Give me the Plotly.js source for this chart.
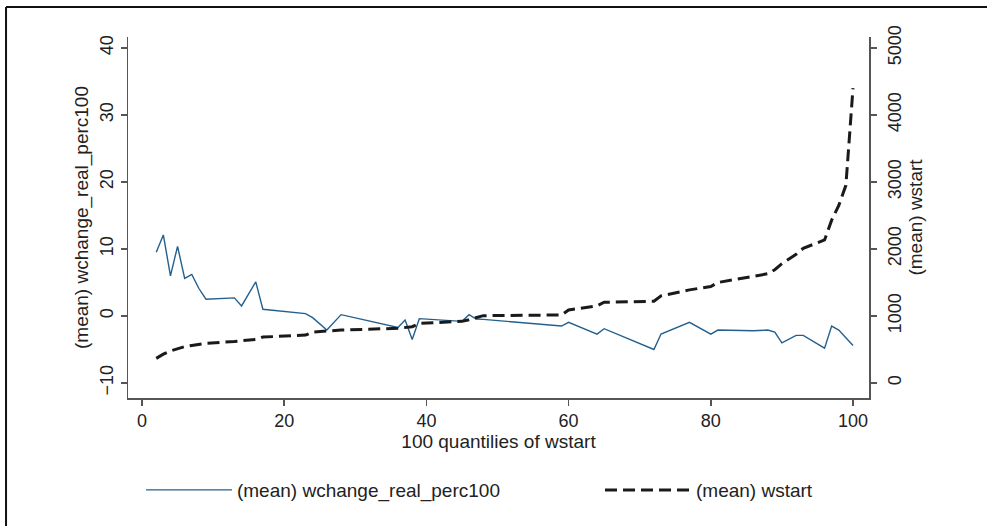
<!DOCTYPE html>
<html>
<head>
<meta charset="utf-8">
<script src="https://cdn.plot.ly/plotly-3.0.1.min.js"></script>
<style>html,body{margin:0;padding:0;background:#fff;}#chart{width:987px;height:526px;}</style>
</head>
<body>
<div id="chart"></div>
<script>
const quantiles = [2,3,4,5,6,7,8,9,13,14,16,17,23,24,26,28,36,37,38,39,45,46,47,48,59,60,64,65,72,73,77,80,81,86,88,89,90,92,93,96,97,98,99,100];
const wchange = [9.5,12.1,6.0,10.4,5.6,6.2,4.1,2.5,2.7,1.5,5.1,1.0,0.35,-0.25,-2.1,0.2,-1.7,-0.6,-3.5,-0.4,-0.8,0.2,-0.45,-0.5,-1.5,-0.95,-2.7,-1.9,-5.0,-2.7,-0.95,-2.7,-2.1,-2.2,-2.1,-2.4,-4.0,-2.9,-2.9,-4.8,-1.5,-2.1,-3.25,-4.4];
const wstart = [368,430,478,510,542,560,575,592,620,632,650,685,715,760,776,790,816,825,840,890,920,945,975,1005,1015,1090,1150,1205,1220,1300,1390,1440,1500,1600,1630,1690,1780,1920,2010,2135,2430,2650,2950,4400];
const seriesNames = ["(mean) wchange_real_perc100", "(mean) wstart"];
const xTitle = "100 quantilies of wstart";

const fam = "Liberation Sans, Arial, sans-serif";
const tickFont = {family: fam, size: 18, color: "#222"};
const titleFont = {family: fam, size: 19, color: "#222"};
const axisCommon = {showline: true, linecolor: "#555", linewidth: 1.5, ticks: "outside", ticklen: 6, tickcolor: "#555", tickwidth: 1.5, showgrid: false, zeroline: false, tickfont: tickFont};

const data = [
  {x: quantiles, y: wchange, type: "scatter", mode: "lines", name: seriesNames[0], line: {color: "#24608e", width: 1.4}, yaxis: "y", legend: "legend"},
  {x: quantiles, y: wstart, type: "scatter", mode: "lines", name: seriesNames[1], line: {color: "#1a1a1a", width: 3, dash: "12px,6px"}, yaxis: "y2", legend: "legend2"}
];

const legendCommon = {orientation: "h", xanchor: "left", yanchor: "middle", y: -0.255, font: titleFont, itemwidth: 86, bgcolor: "rgba(0,0,0,0)"};

const layout = {
  width: 987, height: 526,
  margin: {l: 128, r: 118, t: 37, b: 128},
  paper_bgcolor: "#fff", plot_bgcolor: "#fff",
  font: tickFont,
  showlegend: true,
  legend: Object.assign({}, legendCommon, {x: 0.0175}),
  legend2: Object.assign({}, legendCommon, {x: 0.637}),
  xaxis: Object.assign({}, axisCommon, {range: [-1.97, 102.25], tickvals: [0,20,40,60,80,100], ticklabelstandoff: 0, title: {text: xTitle, font: titleFont, standoff: 1}}),
  yaxis: Object.assign({}, axisCommon, {range: [-12.24, 41.64], tickvals: [-10,0,10,20,30,40], tickangle: -90, title: {text: seriesNames[0], font: titleFont, standoff: 3}}),
  yaxis2: Object.assign({}, axisCommon, {overlaying: "y", side: "right", range: [-224, 5164], tickvals: [0,1000,2000,3000,4000,5000], tickangle: -90, ticklabelstandoff: 3, title: {text: seriesNames[1], font: titleFont, standoff: 4}}),
  shapes: [
    {type: "line", xref: "paper", yref: "paper", x0: -0.1646, x1: 1.2, y0: 1.083, y1: 1.083, line: {color: "#111", width: 2}},
    {type: "line", xref: "paper", yref: "paper", x0: -0.1646, x1: -0.1646, y0: 1.083, y1: -0.4, line: {color: "#111", width: 2}}
  ]
};

Plotly.newPlot("chart", data, layout, {displayModeBar: false, staticPlot: true});
</script>
</body>
</html>
